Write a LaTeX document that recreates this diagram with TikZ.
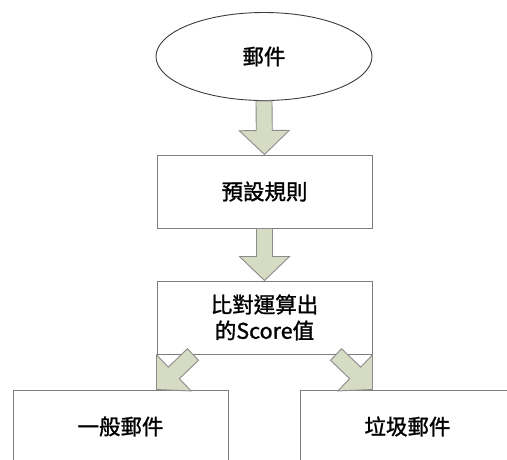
\documentclass[tikz,border=0pt]{standalone}
\usepackage{fontspec}
\setmainfont{Noto Sans CJK TC}[FakeBold=1.3]
\usetikzlibrary{calc,shapes.geometric}
\definecolor{arrfill}{RGB}{214,219,196}
\definecolor{arrline}{RGB}{140,140,140}
\definecolor{boxline}{RGB}{125,125,125}
\definecolor{ellline}{RGB}{60,60,60}
\tikzset{
  box/.style={draw=boxline, fill=white, line width=1pt, minimum width=215pt, minimum height=73pt,
    inner sep=0pt, align=center, font=\fontsize{21.5}{26}\selectfont},
  oval/.style={ellipse, draw=ellline, fill=white, line width=0.9pt, minimum width=216pt, minimum height=88pt,
    inner sep=0pt, font=\fontsize{21.5}{26}\selectfont},
  blockarrow/.style={fill=arrfill, draw=arrline, line width=0.9pt, line join=miter}
}
\newcommand\blockarr[2]{%
  \coordinate (ba-j) at ($(#2)!24pt!(#1)$);
  \draw[blockarrow] ($(#1)!8pt!90:(#2)$) -- ($(ba-j)!8pt!-90:(#1)$) -- ($(ba-j)!25pt!-90:(#1)$)
    -- (#2) -- ($(ba-j)!25pt!90:(#1)$) -- ($(ba-j)!8pt!90:(#1)$) -- ($(#1)!8pt!-90:(#2)$) -- cycle;
}
\begin{document}
\begin{tikzpicture}[x=1pt,y=-1pt]
  \path[use as bounding box, clip] (0,0) rectangle (507,459);
  \node[oval] (mail) at (264,56.5) {郵件};
  \node[box] (rules) at (264.5,191.5) {預設規則};
  \node[box] (score) at (264.5,317.5) {比對運算出\\的Score值};
  \node[box] (normal) at (120.5,426.5) {一般郵件};
  \node[box] (spam) at (407.5,426.5) {垃圾郵件};
  \blockarr{mail.south}{rules.north}
  \blockarr{rules.south}{score.north}
  \coordinate (d1s) at ($(score.south)+(-71.5,0)$);
  \coordinate (d1t) at ($(normal.north)+(36,0)$);
  \coordinate (d2s) at ($(score.south)+(71.5,0)$);
  \coordinate (d2t) at ($(spam.north)+(-35,0)$);
  \blockarr{d1s}{d1t}
  \blockarr{d2s}{d2t}
\end{tikzpicture}
\end{document}
